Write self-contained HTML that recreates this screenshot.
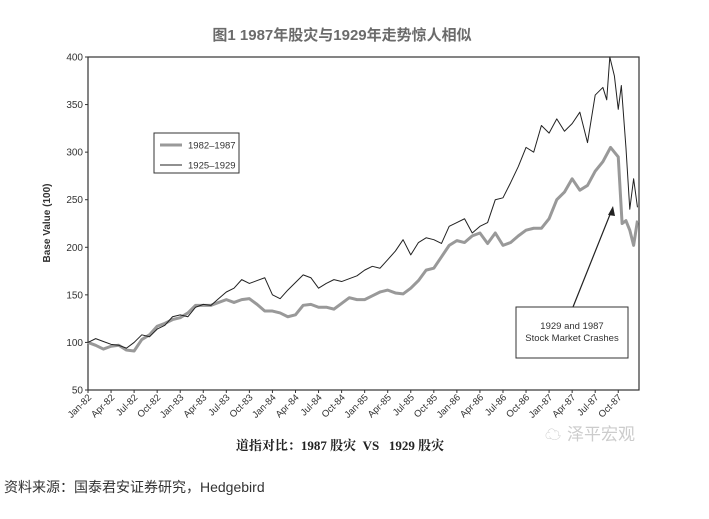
<!DOCTYPE html>
<html><head><meta charset="utf-8"><style>
body{margin:0;background:#fff;width:709px;height:519px;overflow:hidden;font-family:"Liberation Sans","Noto Sans CJK SC",sans-serif;}
svg{position:absolute;left:0;top:0}
</style></head><body>
<svg width="709" height="519" viewBox="0 0 709 519">
<text x="342" y="40" text-anchor="middle" font-size="15" font-weight="bold" fill="#6b6b6b" font-family="Liberation Sans, Noto Sans CJK SC, sans-serif">图1  1987年股灾与1929年走势惊人相似</text>
<rect x="88" y="57" width="551" height="333" fill="none" stroke="#333" stroke-width="1.2"/>
<g id="yax"></g>
<g id="xax"></g>
<text transform="translate(50,223) rotate(-90)" text-anchor="middle" font-size="10" font-weight="bold" fill="#333">Base Value (100)</text>
<polyline id="s1" fill="none" stroke="#999" stroke-width="3" stroke-linejoin="round"/>
<polyline id="s2" fill="none" stroke="#222" stroke-width="1" stroke-linejoin="round"/>
<g>
<rect x="154" y="133" width="85" height="40" fill="#fff" stroke="#333" stroke-width="1"/>
<line x1="160" y1="145" x2="182" y2="145" stroke="#999" stroke-width="3"/>
<text x="188" y="148.5" font-size="9.5" fill="#333">1982–1987</text>
<line x1="160" y1="165" x2="182" y2="165" stroke="#222" stroke-width="1"/>
<text x="188" y="168.5" font-size="9.5" fill="#333">1925–1929</text>
</g>
<g>
<line x1="573" y1="307" x2="611" y2="212" stroke="#222" stroke-width="1.2"/>
<polygon points="613,206 608,215 615,216" fill="#222"/>
<rect x="516" y="307" width="112" height="51" fill="#fff" stroke="#333" stroke-width="1"/>
<text x="572" y="329" text-anchor="middle" font-size="9.5" fill="#333">1929 and 1987</text>
<text x="572" y="341" text-anchor="middle" font-size="9.5" fill="#333">Stock Market Crashes</text>
</g>
<text x="340" y="450" text-anchor="middle" font-size="13" font-weight="bold" fill="#222" font-family="Liberation Serif, Noto Serif CJK SC, serif" xml:space="preserve">道指对比：1987 股灾  VS   1929 股灾</text>
<text x="567" y="440" font-size="17" fill="#ccc" font-family="Liberation Sans, Noto Sans CJK SC, sans-serif">泽平宏观</text>
<text x="545" y="440" font-size="16" fill="#ccc">☁</text>
<text x="4" y="492" font-size="14" fill="#333">资料来源：国泰君安证券研究，Hedgebird</text>
</svg>
<script>
const yTicks=[50,100,150,200,250,300,350,400];
const xTickLabels=["Jan-82","Apr-82","Jul-82","Oct-82","Jan-83","Apr-83","Jul-83","Oct-83","Jan-84","Apr-84","Jul-84","Oct-84","Jan-85","Apr-85","Jul-85","Oct-85","Jan-86","Apr-86","Jul-86","Oct-86","Jan-87","Apr-87","Jul-87","Oct-87"];
const months1=[0,1,2,3,4,5,6,7,8,9,10,11,12,13,14,15,16,17,18,19,20,21,22,23,24,25,26,27,28,29,30,31,32,33,34,35,36,37,38,39,40,41,42,43,44,45,46,47,48,49,50,51,52,53,54,55,56,57,58,59,60,61,62,63,64,65,66,67,68,69,69.5,70,70.5,71,71.5];
const vals1982=[100,97,93,96,97,92,91,103,108,117,120,124,126,131,139,139,139,142,145,142,145,146,140,133,133,131,127,129,139,140,137,137,135,141,147,145,145,149,153,155,152,151,157,165,176,178,190,202,207,205,212,215,204,215,202,205,212,218,220,220,230,250,258,272,260,265,280,290,305,295,225,228,218,202,228];
const months2=[0,1,2,3,4,5,6,7,8,9,10,11,12,13,14,15,16,17,18,19,20,21,22,23,24,25,26,27,28,29,30,31,32,33,34,35,36,37,38,39,40,41,42,43,44,45,46,47,48,49,50,51,52,53,54,55,56,57,58,59,60,61,62,63,64,65,66,67,67.5,67.9,68.5,69,69.4,70,70.5,71,71.5];
const vals1925=[100,104,101,98,97,94,100,108,106,114,118,127,129,127,137,140,139,146,153,157,166,162,165,168,150,146,155,163,171,168,157,162,166,164,167,170,176,180,178,187,196,208,192,205,210,208,204,222,226,230,215,222,226,250,252,268,285,305,300,328,320,335,322,330,342,310,360,368,355,400,380,345,370,305,240,272,242];
const X0=88,XW=551,XMAX=71.7,Y0=390,YH=333;
const xs=m=>X0+m/XMAX*XW;
const ys=v=>Y0-(v-50)/350*YH;
const NS="http://www.w3.org/2000/svg";
const yax=document.getElementById('yax');
yTicks.forEach(t=>{
  const l=document.createElementNS(NS,'line');
  
  
  l.setAttribute('x1',X0-3);l.setAttribute('x2',X0);l.setAttribute('y1',ys(t));l.setAttribute('y2',ys(t));l.setAttribute('stroke','#333');
  yax.appendChild(l);
  const tx=document.createElementNS(NS,'text');
  
  
  tx.setAttribute('x',X0-5);tx.setAttribute('y',ys(t)+3.5);tx.setAttribute('text-anchor','end');tx.setAttribute('font-size','10');tx.setAttribute('fill','#333');
  tx.textContent=t;yax.appendChild(tx);
});
const xax=document.getElementById('xax');
xTickLabels.forEach((lab,i)=>{
  const x=xs(i*3);
  const l=document.createElementNS(NS,'line');
  
  
  l.setAttribute('x1',x);l.setAttribute('x2',x);l.setAttribute('y1',Y0);l.setAttribute('y2',Y0+3);l.setAttribute('stroke','#333');
  xax.appendChild(l);
  const tx=document.createElementNS(NS,'text');
  
  
  tx.setAttribute('transform',`translate(${x+4},${Y0+8}) rotate(-45)`);tx.setAttribute('text-anchor','end');tx.setAttribute('font-size','9.5');tx.setAttribute('fill','#333');
  tx.textContent=lab;xax.appendChild(tx);
});
document.getElementById('s1').setAttribute('points',months1.map((m,i)=>xs(m)+','+ys(vals1982[i])).join(' '));
document.getElementById('s2').setAttribute('points',months2.map((m,i)=>xs(m)+','+ys(vals1925[i])).join(' '));
</script>
</body></html>
